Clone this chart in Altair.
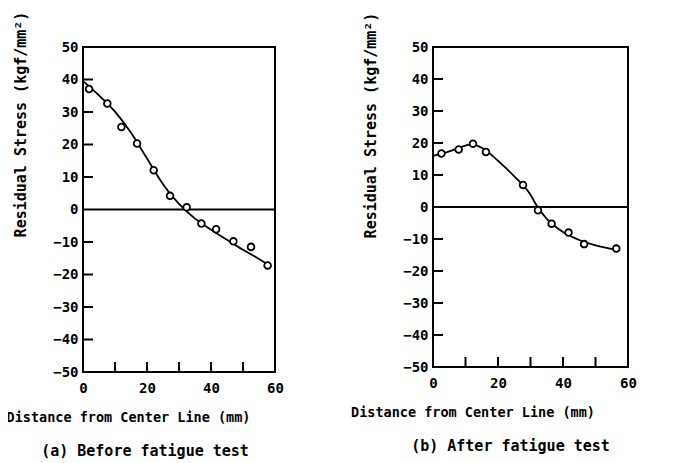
import altair as alt
import pandas as pd

# ---- data ----
left_pts_x = [1.9, 7.6, 12.0, 16.9, 22.1, 27.2, 32.4, 37.0, 41.6, 47.0, 52.5, 57.7]
left_pts_y = [37.1, 32.6, 25.4, 20.3, 12.1, 4.2, 0.7, -4.3, -6.1, -9.8, -11.5, -17.2]
left_curve_x = [0, 5, 10, 15, 20, 25, 30, 35, 40, 45, 50, 55, 58]
left_curve_y = [39.5, 35.1, 30.1, 23.6, 15.7, 7.8, 1.7, -2.8, -6.2, -9.3, -12.4, -15.2, -17.0]

right_pts_x = [2.6, 7.9, 12.3, 16.3, 27.7, 32.3, 36.5, 41.7, 46.5, 56.4]
right_pts_y = [16.7, 18.0, 19.8, 17.2, 6.9, -1.0, -5.2, -8.0, -11.6, -13.0]
right_curve_x = [0, 5, 10, 12, 15, 18, 21, 25, 30, 32, 35, 40, 45, 50, 56.5]
right_curve_y = [16.0, 17.4, 19.2, 19.6, 18.5, 16.3, 13.5, 9.6, 3.8, 0.3, -3.7, -7.8, -10.3, -12.0, -13.4]

y_tick_labels = [-50, -40, -30, -20, -10, 0, 10, 20, 30, 40, 50]
y_inner_ticks = [-40, -30, -20, -10, 10, 20, 30, 40]
x_tick_labels = [0, 20, 40, 60]
x_inner_ticks = [10, 20, 30, 40, 50]

x_title = "Distance from Center Line (mm)"
y_title = "Residual Stress (kgf/mm²)"
subtitles = ["(a) Before fatigue test", "(b) After fatigue test"]

FONT = "DejaVu Sans Mono"


def panel(px, py, cx, cy, w, h, subtitle, title_dx, sub_dx, ytitle_y):
    xs = alt.Scale(domain=[0, 60], nice=False, zero=False)
    ys = alt.Scale(domain=[-50, 50], nice=False, zero=False)
    curve_df = pd.DataFrame({"d": cx, "s": cy})
    pts_df = pd.DataFrame({"d": px, "s": py})

    xaxis = alt.Axis(
        values=x_tick_labels, ticks=False, domain=False, grid=False,
        labelFont=FONT, labelFontWeight="bold", labelFontSize=14,
        labelColor="black", labelPadding=9,
        title=x_title, titleFont=FONT, titleFontWeight="bold",
        titleFontSize=13.5, titleColor="black",
        titleX=w / 2 + title_dx, titleY=45, titleAlign="center",
        titleBaseline="middle", labelFlush=False)
    yaxis = alt.Axis(
        values=y_tick_labels, ticks=False, domain=False, grid=False,
        labelFont=FONT, labelFontWeight="bold", labelFontSize=14,
        labelColor="black", labelPadding=5,
        title=y_title, titleFont=FONT, titleFontWeight="bold",
        titleFontSize=15, titleColor="black",
        titleX=-63, titleY=ytitle_y, titleAlign="center",
        titleBaseline="middle", titleAngle=-90, labelFlush=False)

    curve = alt.Chart(curve_df).mark_line(
        color="black", strokeWidth=1.8, interpolate="monotone"
    ).encode(
        x=alt.X("d:Q", scale=xs, axis=xaxis),
        y=alt.Y("s:Q", scale=ys, axis=yaxis),
    )

    points = alt.Chart(pts_df).mark_point(
        shape="circle", filled=True, fill="white", stroke="black",
        strokeWidth=1.8, size=45, opacity=1
    ).encode(
        x=alt.X("d:Q", scale=xs, axis=xaxis),
        y=alt.Y("s:Q", scale=ys, axis=yaxis),
    )

    zero = alt.Chart(pd.DataFrame({"s": [0]})).mark_rule(
        color="black", strokeWidth=1.8
    ).encode(y=alt.Y("s:Q", scale=ys, axis=yaxis))

    yt = alt.Chart(pd.DataFrame({"s": y_inner_ticks})).mark_rule(
        color="black", strokeWidth=2
    ).encode(y=alt.Y("s:Q", scale=ys, axis=yaxis), x=alt.value(0), x2=alt.value(10))

    xt = alt.Chart(pd.DataFrame({"d": x_inner_ticks})).mark_rule(
        color="black", strokeWidth=2
    ).encode(x=alt.X("d:Q", scale=xs, axis=xaxis), y=alt.value(h), y2=alt.value(h - 10))

    return alt.layer(curve, zero, yt, xt, points).properties(
        width=w, height=h,
        title=alt.TitleParams(
            subtitle, orient="bottom", anchor="middle", dx=sub_dx, offset=20,
            font=FONT, fontWeight="bold", fontSize=15, color="black"),
    )


left = panel(left_pts_x, left_pts_y, left_curve_x, left_curve_y,
             192, 325, subtitles[0], -51, -34, 77)
right = panel(right_pts_x, right_pts_y, right_curve_x, right_curve_y,
              195, 320, subtitles[1], -58, -20, 78)

chart = alt.hconcat(left, right, spacing=64).properties(
    padding={"left": -3, "top": 2, "right": 0, "bottom": 0}
).configure(background="white").configure_view(stroke="black", strokeWidth=2)

chart.save("out.html", embed_options={"renderer": "svg", "actions": False})
